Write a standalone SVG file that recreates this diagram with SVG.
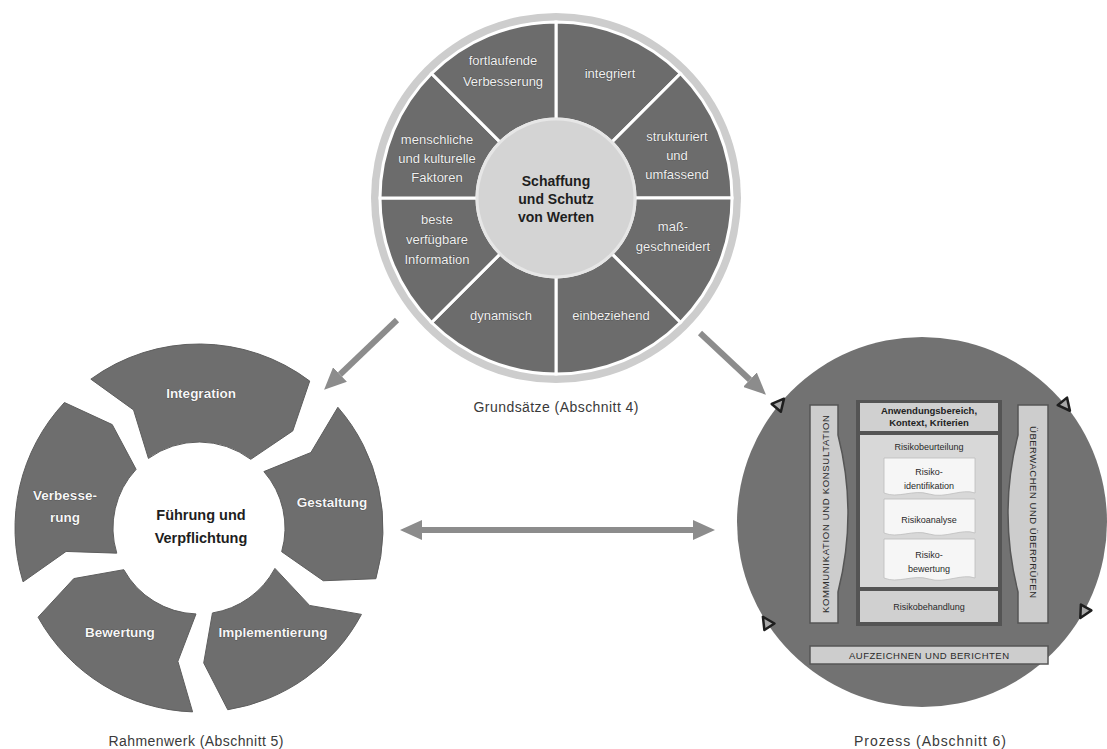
<svg xmlns="http://www.w3.org/2000/svg" width="1107" height="749" viewBox="0 0 1107 749">
<defs>
<style>
text{font-family:"Liberation Sans",Arial,sans-serif}
.seg{fill:#6c6c6c;stroke:#ffffff;stroke-width:3}
.st{font-size:13px;fill:#f0f0f0;text-anchor:middle;stroke:#3c3c3c;stroke-width:0.6;paint-order:stroke}
.ctr{font-size:14px;font-weight:bold;fill:#1e1e1e;text-anchor:middle}
.fw{fill:#6e6e6e;stroke:#5e5e5e;stroke-width:1}
.ft{font-size:13.5px;font-weight:bold;fill:#f6f6f6;text-anchor:middle;stroke:#3a3a3a;stroke-width:0.7;paint-order:stroke}
.cap{font-size:14px;fill:#3a3a3a;text-anchor:middle}
.pbox{fill:#d0d0d0}
.pw{fill:#f6f6f6;stroke:#bdbdbd;stroke-width:0.8}
.pt{font-size:9px;fill:#2a2a2a;text-anchor:middle}
.ptb{font-size:9.5px;font-weight:bold;fill:#222;text-anchor:middle}
.bar{fill:#cdcdcd;stroke:#565656;stroke-width:1.5}
.tri{fill:#a8a8a8;stroke:#1e1e1e;stroke-width:2.5;stroke-linejoin:round}
.conn{stroke:#8c8c8c;stroke-width:6;fill:none}
</style>
<marker id="ah" markerUnits="userSpaceOnUse" markerWidth="22" markerHeight="20" viewBox="0 0 22 20" refX="0" refY="10" orient="auto-start-reverse">
<path d="M0,0 L22,10 L0,20 Z" fill="#8c8c8c"/>
</marker>
</defs>
<rect x="0" y="0" width="1107" height="749" fill="#ffffff"/>

<g id="grundsaetze">
<circle cx="556" cy="198" r="185" fill="#cdcdcd"/>
<g id="p-integriert"><path class="seg" d="M556,22 A176,176 0 0 1 680.45,73.55 L611.86,142.14 A79,79 0 0 0 556,119 Z"/><text class="st" x="610" y="78">integriert</text></g>
<g id="p-strukturiert"><path class="seg" d="M680.45,73.55 A176,176 0 0 1 732,198 L635,198 A79,79 0 0 0 611.86,142.14 Z"/><text class="st" x="677" y="141">strukturiert</text><text class="st" x="677" y="160">und</text><text class="st" x="677" y="179">umfassend</text></g>
<g id="p-massgeschneidert"><path class="seg" d="M732,198 A176,176 0 0 1 680.45,322.45 L611.86,253.86 A79,79 0 0 0 635,198 Z"/><text class="st" x="673" y="231">maß-</text><text class="st" x="673" y="251">geschneidert</text></g>
<g id="p-einbeziehend"><path class="seg" d="M680.45,322.45 A176,176 0 0 1 556,374 L556,277 A79,79 0 0 0 611.86,253.86 Z"/><text class="st" x="611" y="320">einbeziehend</text></g>
<g id="p-dynamisch"><path class="seg" d="M556,374 A176,176 0 0 1 431.55,322.45 L500.14,253.86 A79,79 0 0 0 556,277 Z"/><text class="st" x="501" y="320">dynamisch</text></g>
<g id="p-information"><path class="seg" d="M431.55,322.45 A176,176 0 0 1 380,198 L477,198 A79,79 0 0 0 500.14,253.86 Z"/><text class="st" x="437" y="224">beste</text><text class="st" x="437" y="244">verfügbare</text><text class="st" x="437" y="264">Information</text></g>
<g id="p-faktoren"><path class="seg" d="M380,198 A176,176 0 0 1 431.55,73.55 L500.14,142.14 A79,79 0 0 0 477,198 Z"/><text class="st" x="437" y="144">menschliche</text><text class="st" x="437" y="163">und kulturelle</text><text class="st" x="437" y="182">Faktoren</text></g>
<g id="p-verbesserung"><path class="seg" d="M431.55,73.55 A176,176 0 0 1 556,22 L556,119 A79,79 0 0 0 500.14,142.14 Z"/><text class="st" x="503" y="65">fortlaufende</text><text class="st" x="503" y="86">Verbesserung</text></g>
<g id="p-center"><circle cx="556" cy="198" r="79" fill="#d4d4d4" stroke="#e6e6e6" stroke-width="3"/><text class="ctr" x="556" y="186">Schaffung</text><text class="ctr" x="556" y="204">und Schutz</text><text class="ctr" x="556" y="222">von Werten</text></g>
<text class="cap" x="556" y="412" textLength="165" lengthAdjust="spacing">Grundsätze (Abschnitt 4)</text>
</g>

<g id="rahmenwerk">
<g id="f-integration"><path class="fw" d="M90.85,379.14 A184,184 0 0 1 309.73,381.06 L292.78,430.89 L250.75,459.32 A86,86 0 0 0 148.45,458.43 L133.55,409.93 Z"/><text class="ft" x="201" y="398">Integration</text></g>
<g id="f-gestaltung"><path class="fw" d="M337.86,407.28 A184,184 0 0 1 375.88,578.71 L323.27,580.74 L281.67,551.70 A86,86 0 0 0 263.90,471.58 L310.92,452.51 Z"/><text class="ft" x="332" y="507">Gestaltung</text></g>
<g id="f-implementierung"><path class="fw" d="M361.45,614.39 A184,184 0 0 1 227.78,709.74 L203.71,662.92 L212.45,612.94 A86,86 0 0 0 274.93,568.38 L309.59,605.44 Z"/><text class="ft" x="273" y="637">Implementierung</text></g>
<g id="f-bewertung"><path class="fw" d="M192.58,711.89 A184,184 0 0 1 38.07,617.20 L73.83,578.57 L123.78,569.69 A86,86 0 0 0 196.00,613.95 L177.89,661.34 Z"/><text class="ft" x="120" y="637">Bewertung</text></g>
<g id="f-verbesserung"><path class="fw" d="M23.04,581.80 A184,184 0 0 1 64.42,402.51 L112.22,424.59 L136.10,469.35 A86,86 0 0 0 116.76,553.15 L66.05,551.44 Z"/><text class="ft" x="65" y="500">Verbesse-</text><text class="ft" x="65" y="522">rung</text></g>
<g id="f-center"><text class="ctr" x="201" y="520" style="font-size:14.5px">Führung und</text><text class="ctr" x="201" y="543" style="font-size:14.5px">Verpflichtung</text></g>
<text class="cap" x="196" y="746" textLength="175" lengthAdjust="spacing">Rahmenwerk (Abschnitt 5)</text>
</g>

<g id="prozess">
<circle cx="922" cy="522" r="185" fill="#727272"/>
<g id="pr-kommunikation"><path class="bar" d="M810,405 H838 V435 Q858,513 838,592 V623 H810 Z"/><text class="pt" transform="translate(828.5,514) rotate(-90)" style="font-size:9.5px" textLength="198" lengthAdjust="spacing">KOMMUNIKATION UND KONSULTATION</text></g>
<g id="pr-ueberwachen"><path class="bar" d="M1018,405 H1048 V623 H1018 V592 Q998,513 1018,435 Z"/><text class="pt" transform="translate(1029.5,512) rotate(90)" style="font-size:9.5px" textLength="172" lengthAdjust="spacing">ÜBERWACHEN UND ÜBERPRÜFEN</text></g>
<rect x="856" y="400" width="146" height="226" fill="#545454"/>
<g id="pr-anwendung"><rect class="pbox" x="860" y="403" width="138" height="28"/><text class="ptb" x="929" y="414">Anwendungsbereich,</text><text class="ptb" x="929" y="426">Kontext, Kriterien</text></g>
<g id="pr-beurteilung"><rect x="860" y="435" width="138" height="152" fill="#d8d8d8"/><text class="pt" x="929" y="450">Risikobeurteilung</text></g>
<g id="pr-identifikation"><path class="pw" d="M884,458 H975 V493 C962,488 945,499 929,494 C913,489 898,499 884,493 Z"/><text class="pt" x="929" y="475">Risiko-</text><text class="pt" x="929" y="489">identifikation</text></g>
<g id="pr-analyse"><path class="pw" d="M884,499 H975 V533 C962,528 945,539 929,534 C913,529 898,539 884,533 Z"/><text class="pt" x="929" y="523">Risikoanalyse</text></g>
<g id="pr-bewertung"><path class="pw" d="M884,539 H975 V578 C962,573 945,584 929,579 C913,574 898,584 884,578 Z"/><text class="pt" x="929" y="558">Risiko-</text><text class="pt" x="929" y="572">bewertung</text></g>
<g id="pr-behandlung"><rect class="pbox" x="860" y="591" width="138" height="31"/><text class="pt" x="929" y="610">Risikobehandlung</text></g>
<g id="pr-aufzeichnen"><rect class="bar" x="810" y="646" width="238" height="18"/><text class="pt" x="929" y="658.5" style="font-size:9.5px" textLength="160" lengthAdjust="spacing">AUFZEICHNEN UND BERICHTEN</text></g>
<g id="pr-markers">
<path class="tri" d="M7,0 L-5,-6 L-5,6 Z" transform="translate(779.5,404) rotate(-50)"/>
<path class="tri" d="M7,0 L-5,-6 L-5,6 Z" transform="translate(1065.5,405.3) rotate(51)"/>
<path class="tri" d="M7,0 L-5,-6 L-5,6 Z" transform="translate(1083.7,611.9) rotate(119)"/>
<path class="tri" d="M7,0 L-5,-6 L-5,6 Z" transform="translate(766.7,622.6) rotate(-123)"/>
</g>
<text class="cap" x="930" y="746" textLength="152" lengthAdjust="spacing">Prozess (Abschnitt 6)</text>
</g>

<g id="connectors">
<line class="conn" x1="397" y1="320" x2="340" y2="374.5" marker-end="url(#ah)"/>
<line class="conn" x1="700" y1="333" x2="749.9" y2="379.7" marker-end="url(#ah)"/>
<line class="conn" x1="422" y1="530" x2="693" y2="530" stroke-width="5" marker-start="url(#ah)" marker-end="url(#ah)"/>
</g>
</svg>
